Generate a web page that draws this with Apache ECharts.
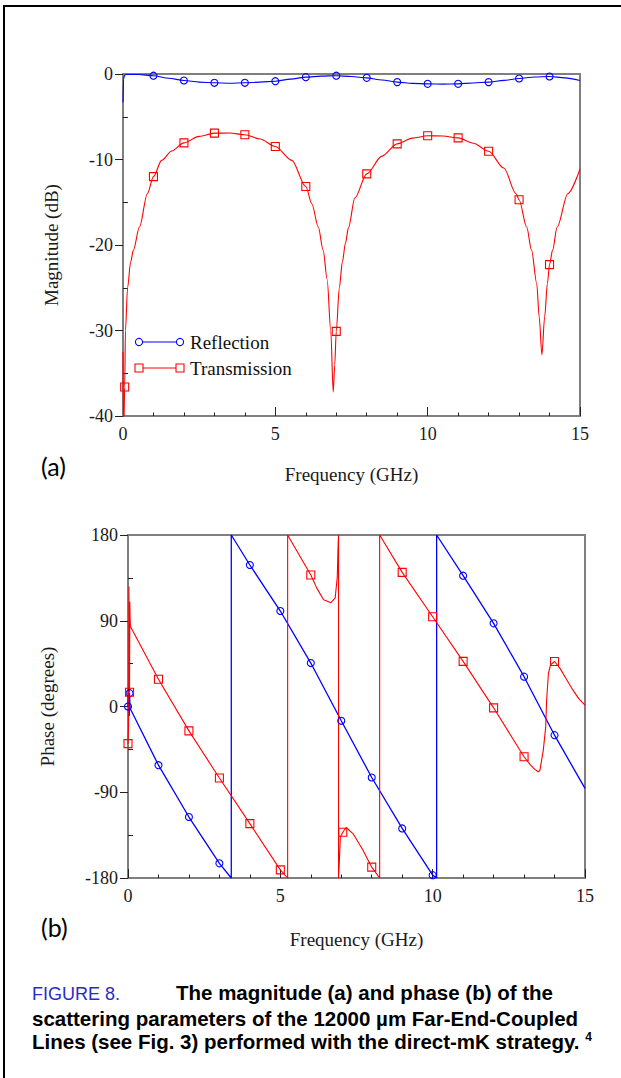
<!DOCTYPE html>
<html>
<head>
<meta charset="utf-8">
<script src="https://cdn.jsdelivr.net/npm/echarts@6/dist/echarts.min.js"></script>
<style>
  html, body { margin: 0; padding: 0; background: #fff; }
  #page { position: relative; width: 621px; height: 1078px; overflow: hidden; background: #fff; }
  #chart { position: absolute; left: 0; top: 0; width: 621px; height: 1078px; }
  #frame { position: absolute; left: 3px; top: 5px; width: 700px; height: 1200px;
           border-left: 2.5px solid #000; border-top: 2.5px solid #000; }
  #caption { position: absolute; left: 32px; top: 981px; font-family: 'Liberation Sans', Arial, sans-serif;
             font-weight: bold; font-size: 20.5px; line-height: 23.5px; color: #000; white-space: nowrap; }
  #caption .fig { display: inline-block; width: 144px; font-weight: normal; color: #2a2acb; font-size: 18px; }
  #caption sup { font-size: 12px; vertical-align: 8px; line-height: 0; }
  .tag { position: absolute; font-family: Lato, 'Open Sans', sans-serif; font-size: 25px; color: #000; }
</style>
</head>
<body>
<div id="page">
  <div id="chart"></div>
  <div id="frame"></div>
  <div class="tag" style="left:41px; top:451px;">(a)</div>
  <div class="tag" style="left:41px; top:912px;">(b)</div>
  <div id="caption">
    <span class="fig">FIGURE 8.</span>The magnitude (a) and phase (b) of the<br>
    scattering parameters of the 12000 µm Far-End-Coupled<br>
    Lines (see Fig. 3) performed with the direct-mK strategy. <sup>4</sup>
  </div>
</div>
<script>
// ---- (a) magnitude, dB : [frequency GHz, value] ----
const reflectionMag = [
  [0, -3.3], [0.02, -0.6], [0.05, -0.15], [0.1, -0.05], [0.3, -0.05], [0.5, -0.06],
  [1, -0.2], [1.5, -0.5], [2, -0.76], [2.5, -0.95], [3, -1.03], [3.5, -1.08], [4, -1.03],
  [4.5, -0.95], [5, -0.84], [5.5, -0.6], [6, -0.37], [6.5, -0.25], [7, -0.2], [7.5, -0.3],
  [8, -0.45], [8.5, -0.7], [9, -0.95], [9.5, -1.1], [10, -1.15], [10.5, -1.18], [11, -1.15],
  [11.5, -1.05], [12, -0.95], [12.5, -0.75], [13, -0.53], [13.5, -0.35], [14, -0.29],
  [14.5, -0.45], [15, -0.76]
];
const transmissionMag = [
  [0, -32.5], [0.01, -40.5], [0.03, -41], [0.055, -36.6], [0.08, -30], [0.15, -25], [0.25, -22],
  [0.34, -20.6], [0.54, -17.9], [0.8, -14.0], [1, -12], [1.27, -10.1], [1.6, -9.0], [2, -8.05],
  [2.5, -7.3], [3, -6.92], [3.5, -6.9], [4, -7.1], [4.5, -7.6], [5, -8.48], [5.54, -10.1],
  [6, -13.16], [6.2, -15.2], [6.41, -17.9], [6.57, -20.6], [6.7, -24], [6.82, -30.1],
  [6.9, -37.2], [6.95, -34], [7.0, -30.1], [7.1, -25], [7.2, -22], [7.3, -19.8], [7.4, -18],
  [7.61, -14.5], [8, -11.68], [8.5, -9.6], [9, -8.17], [9.5, -7.5], [10, -7.23], [10.5, -7.25],
  [11, -7.47], [11.5, -8.1], [12, -9.03], [12.5, -11.0], [12.9, -14.0], [13, -14.7],
  [13.25, -17.9], [13.41, -20.6], [13.58, -24.5], [13.66, -28.4], [13.75, -32.85],
  [13.84, -28.4], [13.93, -24.5], [14, -22.3], [14.1, -20.6], [14.25, -17.9], [14.6, -14.0],
  [15, -11.1]
];

// ---- (b) phase, degrees : [frequency GHz, value]; ±180 pairs are the wrap jumps ----
const reflectionPhase = [
  [0, 0], [0.02, 20], [0.04, -10], [0.05, 14], [0.07, -3], [0.1, -4],
  [1, -61.6], [2, -116], [3, -164.6], [3.39, -180], [3.39, 180], [4, 148.5], [5, 100.2],
  [6, 45.6], [7, -15], [8, -74.5], [9, -128], [10, -177], [10.13, -180], [10.13, 180],
  [11, 137.3], [12, 87.3], [13, 31.3], [14, -30.1], [15, -86]
];
const transmissionPhase = [
  [0, -39], [0.02, -20], [0.03, 126], [0.04, 75], [0.05, 15], [0.06, 110], [0.07, 92],
  [0.08, 84], [1, 28.6], [2, -25.6], [3, -75.1], [4, -122.9], [5, -171.5], [5.24, -180],
  [5.24, 180], [6, 138], [6.2, 124], [6.42, 112], [6.66, 109], [6.8, 114], [6.87, 136],
  [6.89, 164], [6.91, 180], [6.91, -180], [6.93, -168], [6.97, -137], [7.05, -132],
  [7.16, -127], [7.4, -134], [7.7, -150], [8, -168.6], [8.26, -180], [8.26, 180],
  [9, 140.8], [10, 94.2], [11, 47.4], [12, -1.4], [13, -52.7], [13.2, -61], [13.35, -66],
  [13.47, -68.5], [13.52, -67], [13.63, -46], [13.71, -21.7], [13.74, 6.6], [13.8, 34.9],
  [13.87, 43.7], [14, 47.2], [14.18, 40], [14.4, 28], [14.6, 17.4], [14.8, 8], [15, 1.4]
];

// frequencies that carry a marker symbol
const reflectionMagMarks = [1, 2, 3, 4, 5, 6, 7, 8, 9, 10, 11, 12, 13, 14];
const transmissionMagMarks = [0.055, 1, 2, 3, 4, 5, 6, 7, 8, 9, 10, 11, 12, 13, 14];
const reflectionPhaseMarks = [0, 0.05, 1, 2, 3, 4, 5, 6, 7, 8, 9, 10, 11, 12, 13, 14];
const transmissionPhaseMarks = [0, 0.05, 1, 2, 3, 4, 5, 6, 7.05, 8, 9, 10, 11, 12, 13, 14];

// axis ticks
const freqTicks = { min: 0, max: 15, interval: 5 };
const magTicks = { min: -40, max: 0, interval: 10 };
const phaseTicks = { min: -180, max: 180, interval: 90 };

const BLUE = '#0000ff';
const RED = '#ff0000';
const FRAME = '#7f7f7f';
const serif = "'Liberation Serif', 'Times New Roman', serif";

function xAxisFor(gridIndex, gap) {
  return {
    gridIndex, type: 'value', min: freqTicks.min, max: freqTicks.max, interval: freqTicks.interval,
    position: 'bottom',
    axisLine: { show: true, onZero: false, lineStyle: { color: FRAME, width: 2 } },
    axisTick: { show: true, inside: true, length: 9, lineStyle: { color: '#222', width: 1 } },
    minorTick: { show: true, splitNumber: 5, length: 3.5, lineStyle: { color: '#222', width: 1 } },
    splitLine: { show: false },
    axisLabel: { fontFamily: serif, fontSize: 18, color: '#1a1a1a', margin: 9 },
    name: 'Frequency (GHz)', nameLocation: 'middle', nameGap: gap,
    nameTextStyle: { fontFamily: serif, fontSize: 19, color: '#1a1a1a' }
  };
}
function yAxisFor(gridIndex, t, name, gap, minorSplit) {
  return [{
    gridIndex, type: 'value', min: t.min, max: t.max, interval: t.interval, position: 'left',
    axisLine: { show: true, onZero: false, lineStyle: { color: FRAME, width: 2 } },
    axisTick: { show: true, inside: false, length: 8, lineStyle: { color: '#222', width: 1 } },
    splitLine: { show: false },
    axisLabel: { fontFamily: serif, fontSize: 18, color: '#1a1a1a', margin: 10 },
    name, nameLocation: 'middle', nameGap: gap,
    nameTextStyle: { fontFamily: serif, fontSize: 19, color: '#1a1a1a' }
  }, {
    // inner minor ticks only
    gridIndex, type: 'value', min: t.min, max: t.max, interval: t.interval, position: 'left',
    axisLine: { show: false, onZero: false }, axisLabel: { show: false }, splitLine: { show: false },
    axisTick: { show: false, inside: true },
    minorTick: { show: true, splitNumber: minorSplit, length: 5, lineStyle: { color: '#222', width: 1 } }
  }];
}

function curve(name, data, marks, color, symbol, size, xi, yi, width, smooth) {
  const markSet = new Set(marks);
  return {
    name, type: 'line', data, xAxisIndex: xi, yAxisIndex: yi,
    smooth: smooth, smoothMonotone: 'x', showSymbol: true, showAllSymbol: true, symbol,
    symbolSize: (v) => (markSet.has(v[0]) ? size : 0),
    lineStyle: { color, width: width },
    itemStyle: { color: 'rgba(255,255,255,0)', borderColor: color, borderWidth: 1.1 },
    emphasis: { disabled: true }, animation: false, clip: true, z: 3
  };
}

const chart = echarts.init(document.getElementById('chart'), null, { renderer: 'svg' });

const legendItems = [
  { label: 'Reflection', color: BLUE, shape: 'circle', y: 342 },
  { label: 'Transmission', color: RED, shape: 'rect', y: 368 }
];
const legendGraphic = [];
legendItems.forEach((it) => {
  legendGraphic.push({ type: 'line', shape: { x1: 139, y1: it.y, x2: 180, y2: it.y },
    style: { stroke: it.color, lineWidth: 1 } });
  [139, 180].forEach((cx) => {
    if (it.shape === 'circle') {
      legendGraphic.push({ type: 'circle', shape: { cx, cy: it.y, r: 3.6 },
        style: { fill: '#fff', stroke: it.color, lineWidth: 1.1 } });
    } else {
      legendGraphic.push({ type: 'rect', shape: { x: cx - 4, y: it.y - 4, width: 8, height: 8 },
        style: { fill: '#fff', stroke: it.color, lineWidth: 1.1 } });
    }
  });
  legendGraphic.push({ type: 'text', x: 190, y: it.y,
    style: { text: it.label, font: "19px 'Liberation Serif', serif", fill: '#111', verticalAlign: 'middle' } });
});

chart.setOption({
  animation: false,
  backgroundColor: '#fff',
  grid: [
    { left: 123, top: 74, width: 457, height: 342, show: true, borderColor: FRAME, borderWidth: 2, backgroundColor: 'transparent' },
    { left: 128, top: 535, width: 457, height: 343, show: true, borderColor: FRAME, borderWidth: 2, backgroundColor: 'transparent' }
  ],
  xAxis: [xAxisFor(0, 49), xAxisFor(1, 52)],
  yAxis: [
    ...yAxisFor(0, magTicks, 'Magnitude (dB)', 62, 2),
    ...yAxisFor(1, phaseTicks, 'Phase (degrees)', 71, 2)
  ],
  series: [
    curve('Reflection', reflectionMag, reflectionMagMarks, BLUE, 'circle', 7, 0, 0, 1.1, 0.3),
    curve('Transmission', transmissionMag, transmissionMagMarks, RED, 'rect', 8, 0, 0, 1.1, 0.3),
    curve('Reflection phase', reflectionPhase, reflectionPhaseMarks, BLUE, 'circle', 7, 1, 2, 1.3, false),
    curve('Transmission phase', transmissionPhase, transmissionPhaseMarks, RED, 'rect', 8, 1, 2, 1.1, false)
  ],
  graphic: legendGraphic
});
</script>
</body>
</html>
